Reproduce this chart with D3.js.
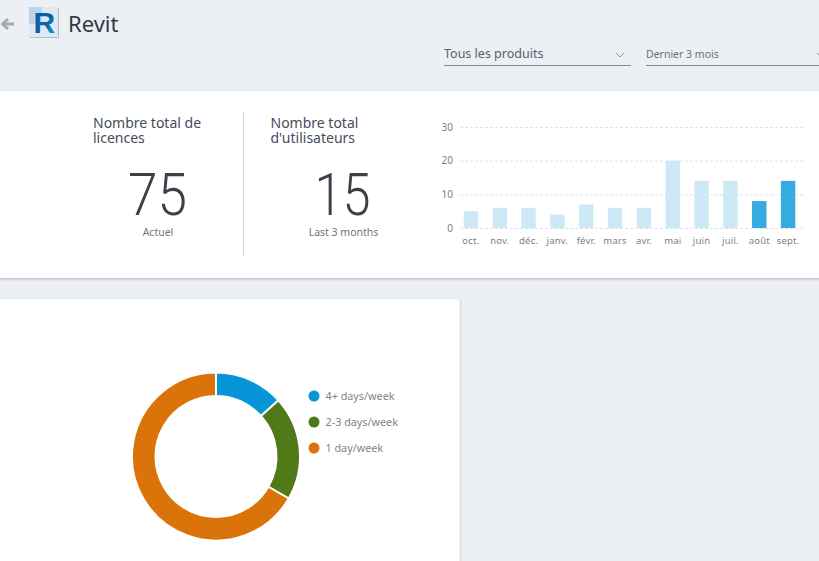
<!DOCTYPE html>
<html><head><meta charset="utf-8">
<script src="https://cdn.jsdelivr.net/npm/d3@7/dist/d3.min.js"></script>
<style>html,body{margin:0;padding:0;background:#eceff3;overflow:hidden}svg{display:block}text{font-family:"Noto Sans",sans-serif}</style>
</head><body><svg id="c" width="819" height="561"></svg>
<script>
const months=["oct.","nov.","déc.","janv.","févr.","mars","avr.","mai","juin","juil.","août","sept."];
const userCounts=[5,6,6,4,7,6,6,20,14,14,8,14];
const highlighted=["août","sept."];
const yTicks=[0,10,20,30];
const freqLabels=["4+ days/week","2-3 days/week","1 day/week"];
const freqValues=[2,3,10];
const freqColors=["#0696d7","#4f7a17","#da7309"];

const svg=d3.select("#c");
const defs=svg.append("defs");
const sh=defs.append("filter").attr("id","sh").attr("x","-5%").attr("y","-5%").attr("width","110%").attr("height","110%");
sh.append("feDropShadow").attr("dx",0).attr("dy",1).attr("stdDeviation",1.5).attr("flood-color","#000").attr("flood-opacity",.25);
const ig=defs.append("linearGradient").attr("id","ig").attr("x1",0).attr("y1",0).attr("x2",1).attr("y2",1);
ig.append("stop").attr("offset",0).attr("stop-color","#0a5fa8");
ig.append("stop").attr("offset",.55).attr("stop-color","#0a5fa8");
ig.append("stop").attr("offset",1).attr("stop-color","#13b5d8");

function txt(x,y,s,size,fill,anchor="start",weight=400){
  return svg.append("text").attr("x",x).attr("y",y).attr("font-size",size).attr("fill",fill).attr("text-anchor",anchor).attr("font-weight",weight).text(s);
}
// header
svg.append("path").attr("d","M14 24H4M8 19L2.5 24L8 29").attr("fill","none").attr("stroke","#a3a8b3").attr("stroke-width",2.8);
svg.append("rect").attr("x",29).attr("y",7).attr("width",29).attr("height",30).attr("fill","#dfe9f5").style("filter","drop-shadow(1px 1px 0 #b5b8bd)");
svg.append("rect").attr("x",29).attr("y",7).attr("width",13).attr("height",17).attr("fill","#b9d5ee");
txt(33.5,33,"R",30,"url(#ig)","start",700).style("font-family","'Liberation Sans',sans-serif");
txt(68,32,"Revit",22,"#323945");
txt(444,58,"Tous les produits",12.5,"#5a606b");
svg.append("path").attr("d","M616 53L620 57L624 53").attr("fill","none").attr("stroke","#8a8f97");
svg.append("line").attr("x1",444).attr("x2",631).attr("y1",65.5).attr("y2",65.5).attr("stroke","#858a92");
txt(646,57.5,"Dernier 3 mois",10.5,"#6b707a");
svg.append("path").attr("d","M817 53L820 56L823 53").attr("fill","none").attr("stroke","#8a8f97");
svg.append("line").attr("x1",646).attr("x2",819).attr("y1",65.5).attr("y2",65.5).attr("stroke","#858a92");

// panels
svg.append("rect").attr("x",-10).attr("y",91).attr("width",840).attr("height",187).attr("fill","#fff").attr("filter","url(#sh)");
svg.append("rect").attr("x",-10).attr("y",299).attr("width",469.5).attr("height",280).attr("fill","#fff").attr("filter","url(#sh)");

// KPIs
txt(93,128,"Nombre total de",14,"#464d5a");
txt(93,143,"licences",14,"#464d5a");
txt(157.5,215,"75",60,"#3c4048","middle",300).style("font-family","Roboto,sans-serif").attr("textLength",59).attr("lengthAdjust","spacingAndGlyphs");
txt(158,236,"Actuel",10.5,"#6f747d","middle");
svg.append("line").attr("x1",243.5).attr("x2",243.5).attr("y1",112).attr("y2",256).attr("stroke","#d5d7da");
txt(270.5,128,"Nombre total",14,"#464d5a");
txt(270.5,143,"d'utilisateurs",14,"#464d5a");
txt(342.5,215,"15",60,"#3c4048","middle",300).style("font-family","Roboto,sans-serif").attr("textLength",56).attr("lengthAdjust","spacingAndGlyphs");
txt(343.5,236,"Last 3 months",10.5,"#6f747d","middle");

// bar chart
const x=d3.scaleBand().domain(months).range([456.5,802.5]).paddingInner(.5).paddingOuter(.25);
const y=d3.scaleLinear().domain([0,30]).range([228,127]);
const gy=svg.append("g").attr("transform","translate(457,0)").call(d3.axisLeft(y).tickValues(yTicks).tickSize(0).tickPadding(4));
gy.select(".domain").remove();
gy.selectAll("text").attr("font-size",10).attr("fill","#7b8088").style("font-family",'"Noto Sans",sans-serif');
gy.selectAll(".tick line").attr("x1",3).attr("x2",346).attr("stroke","#d7e3f1").attr("stroke-dasharray","3 2");
svg.append("g").selectAll("rect").data(months).join("rect")
  .attr("x",d=>x(d)).attr("width",x.bandwidth())
  .attr("y",(d,i)=>y(userCounts[i])).attr("height",(d,i)=>y(0)-y(userCounts[i]))
  .attr("fill",d=>highlighted.includes(d)?"#36abe0":"#cde9f6");
const gx=svg.append("g").attr("transform","translate(0,228)").call(d3.axisBottom(x).tickSize(0).tickPadding(9));
gx.select(".domain").remove();
gx.selectAll("text").attr("font-size",9.5).attr("fill","#7b8088").attr("letter-spacing",.2).style("font-family",'"Noto Sans",sans-serif');

// donut
const pie=d3.pie().sort(null)(freqValues);
const arc=d3.arc().innerRadius(60.5).outerRadius(84);
svg.append("g").attr("transform","translate(216,456.5)").selectAll("path").data(pie).join("path")
  .attr("d",arc).attr("fill",(d,i)=>freqColors[i]).attr("stroke","#fff").attr("stroke-width",2);
const leg=svg.append("g").selectAll("g").data(freqLabels).join("g")
  .attr("transform",(d,i)=>`translate(314,${396+i*26})`);
leg.append("circle").attr("r",5.5).attr("fill",(d,i)=>freqColors[i]);
leg.append("text").attr("x",11.5).attr("y",4).attr("font-size",10.8).attr("fill","#80858d").text(d=>d);
</script></body></html>
